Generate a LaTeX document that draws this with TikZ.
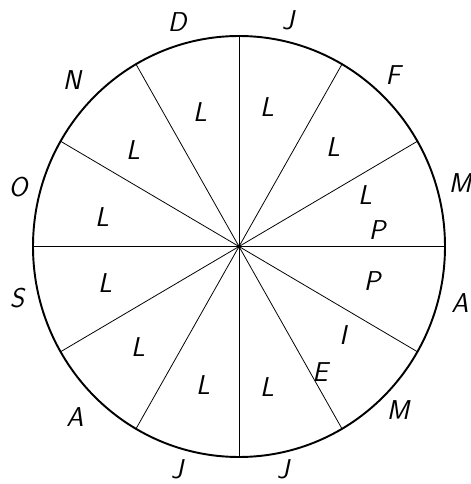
\documentclass[tikz,border=0pt]{standalone}
\usepackage{fontspec}
\usepackage{tikz}

\tikzset{
  rim/.style={line width=1.1pt},
  spoke/.style={line width=0.45pt},
  lbl/.style={font=\sffamily\slshape\fontsize{15.5}{17}\selectfont, inner sep=0pt}
}

\begin{document}
\begin{tikzpicture}[every node/.style={lbl}]
      \useasboundingbox (-4.78,-4.75) rectangle (4.62,4.93);
      \coordinate (c) at (0,0);
      % rim and the twelve spokes
      \draw[rim] (c) ellipse (4.12 and 4.21);
      \foreach \a in {0,30,...,330} {
        \draw[spoke] (c) -- (\a:4.12cm and 4.21cm);
      }
      \fill (c) circle (0.04);
      % months round the rim
      \node (mD) at (-1.24,4.49) {D};
      \node (mJa) at (0.98,4.53) {J};
      \node (mF) at (3.08,3.43) {F};
      \node (mMr) at (4.42,1.27) {M};
      \node (mAp) at (4.42,-1.13) {A};
      \node (mMy) at (3.18,-3.27) {M};
      \node (mJn) at (0.88,-4.45) {J};
      \node (mJl) at (-1.24,-4.45) {J};
      \node (mAu) at (-3.28,-3.41) {A};
      \node (mS) at (-4.44,-1.03) {S};
      \node (mO) at (-4.42,1.19) {O};
      \node (mN) at (-3.34,3.33) {N};
      % letters in the sectors
      \node (sJa) at (0.56,2.79) {L};
      \node (sD) at (-0.78,2.69) {L};
      \node (sN) at (-2.12,1.93) {L};
      \node (sO) at (-2.74,0.59) {L};
      \node (sF) at (1.88,1.99) {L};
      \node (sMr) at (2.52,1.03) {L};
      \node (pMr) at (2.76,0.33) {P};
      \node (pAp) at (2.66,-0.69) {P};
      \node (iMy) at (2.08,-1.77) {I};
      \node (eMy) at (1.62,-2.51) {E};
      \node (sJn) at (0.56,-2.81) {L};
      \node (sJl) at (-0.72,-2.77) {L};
      \node (sAu) at (-2.02,-2.01) {L};
      \node (sS) at (-2.68,-0.73) {L};
    \end{tikzpicture}
\end{document}
